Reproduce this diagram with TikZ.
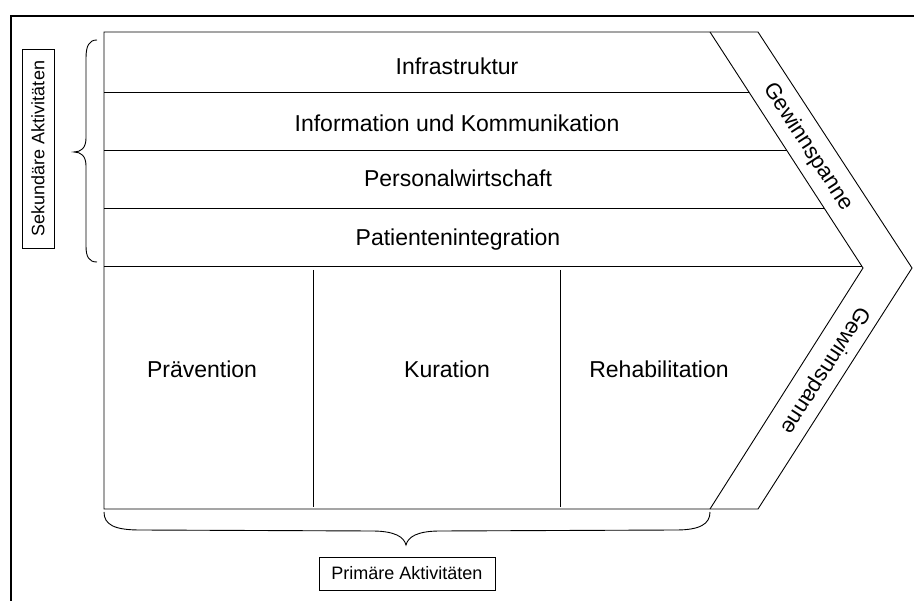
\documentclass[tikz,border=0pt]{standalone}
\usepackage{fontspec}
\setmainfont{Liberation Sans}
\begin{document}
\begin{tikzpicture}[x=1pt,y=-1pt,
  ln/.style={draw=black,line width=0.9pt},
  bigtxt/.style={inner sep=0pt,font=\fontsize{23}{27}\selectfont},
  gtxt/.style={inner sep=0pt,font=\fontsize{22}{26}\selectfont},
  lbl/.style={draw=black,line width=0.9pt,inner sep=0pt,font=\fontsize{18}{22}\selectfont}]
\useasboundingbox (0,0) rectangle (914,601);
\fill[white] (0,0) rectangle (914,601);
% outer frame
\draw[line width=2pt] (914,16) -- (11,16) -- (11,601);
% chevron outline
\draw[ln] (104,32) -- (758,32) -- (912,268) -- (758,509) -- (104,509) -- cycle;
\draw[ln] (710,32) -- (863,268) -- (710,509);
% row lines
\draw[ln] (104,92) -- (749,92);
\draw[ln] (104,150) -- (786.5,150);
\draw[ln] (104,208) -- (824,208);
\draw[ln] (104,266) -- (862,266);
% column dividers
\draw[ln] (313,270) -- (313,507);
\draw[ln] (560,270) -- (560,507);
% texts
\node[bigtxt,anchor=base] (infra) at (457,75) {Infrastruktur};
\node[bigtxt,anchor=base] (info) at (457,132) {Information und Kommunikation};
\node[bigtxt,anchor=base] (pers) at (458,187) {Personalwirtschaft};
\node[bigtxt,anchor=base] (pat) at (458,246) {Patientenintegration};
\node[bigtxt,anchor=base] (prae) at (202,378) {Prävention};
\node[bigtxt,anchor=base] (kur) at (447,378) {Kuration};
\node[bigtxt,anchor=base] (reha) at (659,378) {Rehabilitation};
\node[gtxt,rotate=-57] (gw1) at (808,147) {Gewinnspanne};
\node[gtxt,rotate=-122.5] (gw2) at (825,370) {Gewinnspanne};
% left brace
\draw[line width=0.9pt] (97,40) .. controls (89,40) and (86,46) .. (86,58) -- (86,138)
  .. controls (86,148) and (81,152) .. (74,152)
  .. controls (81,152) and (86,156) .. (86,166) -- (86,246)
  .. controls (86,257) and (89,262) .. (97,262);
% bottom brace
\draw[line width=0.9pt] (104,512) .. controls (104,525) and (115,530) .. (140,530) -- (372,531)
  .. controls (395,531) and (404,537) .. (406,545)
  .. controls (408,537) and (417,531) .. (440,531) -- (676,530)
  .. controls (700,530) and (710,524) .. (710,512);
% labels
\node[lbl,minimum width=32pt,minimum height=199pt] (sek) at (38,148.5) {};
\node[inner sep=0pt,rotate=90,font=\fontsize{18}{22}\selectfont] (sektxt) at (38,148.5) {Sekundäre Aktivitäten};
\node[lbl,minimum width=176pt,minimum height=33pt] (prim) at (407,573.5) {Primäre Aktivitäten};
\end{tikzpicture}
\end{document}
